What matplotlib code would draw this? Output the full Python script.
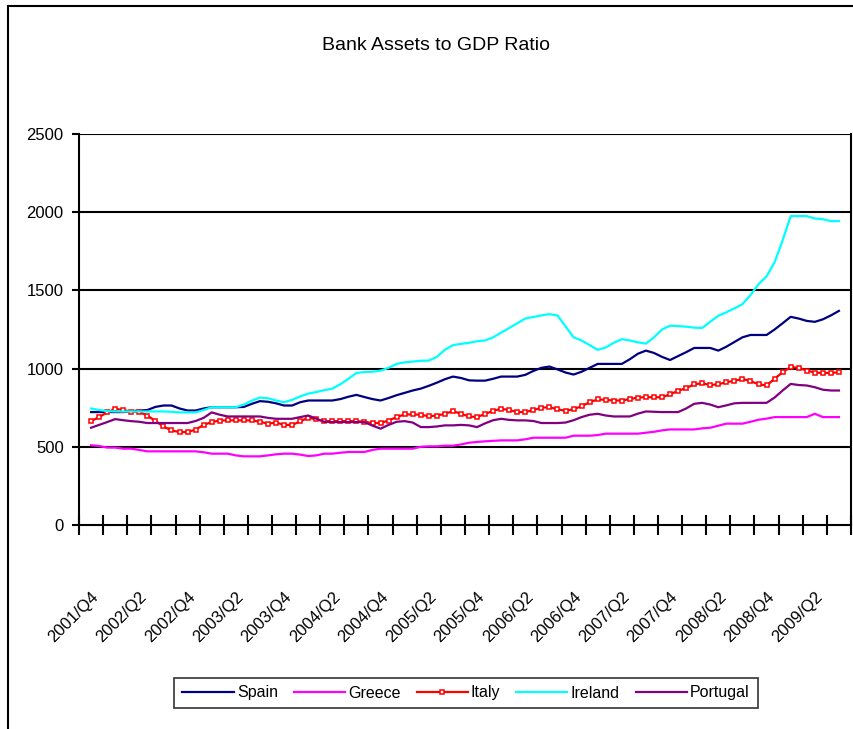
import numpy as np
import matplotlib
matplotlib.use("Agg")
import matplotlib.pyplot as plt
from matplotlib.patches import Rectangle

plt.rcParams['font.family'] = ['Liberation Sans', 'DejaVu Sans']

# etiquetas del eje x (una cada dos trimestres)
etiquetas = ['2001/Q4', '2002/Q2', '2002/Q4', '2003/Q2', '2003/Q4', '2004/Q2',
             '2004/Q4', '2005/Q2', '2005/Q4', '2006/Q2', '2006/Q4', '2007/Q2',
             '2007/Q4', '2008/Q2', '2008/Q4', '2009/Q2']
n_trimestres = 32

# datos mensuales, nov 2001 - ago 2009
spain = [722, 722, 722, 722, 722, 728, 732, 735, 755, 764,
         764, 745, 732, 732, 745, 753, 753, 753, 753, 755,
         775, 792, 788, 778, 764, 764, 785, 796, 796, 796,
         796, 805, 820, 832, 818, 805, 796, 812, 830, 845,
         860, 872, 890, 910, 932, 949, 940, 925, 923, 923,
         935, 949, 949, 949, 960, 985, 1005, 1013, 995, 975,
         962, 980, 1005, 1030, 1030, 1030, 1030, 1060, 1095, 1115,
         1100, 1075, 1055, 1080, 1105, 1132, 1132, 1132, 1115, 1140,
         1170, 1200, 1215, 1215, 1215, 1250, 1290, 1331, 1320, 1305,
         1299, 1315, 1340, 1369]
greece = [510, 505, 495, 495, 488, 488, 480, 471, 471, 471,
          471, 471, 471, 471, 465, 456, 456, 456, 445, 439,
          439, 439, 445, 452, 456, 456, 450, 441, 445, 456,
          456, 462, 467, 467, 467, 480, 488, 488, 488, 488,
          488, 500, 503, 503, 507, 507, 515, 526, 531, 535,
          538, 541, 541, 541, 548, 558, 558, 558, 558, 558,
          571, 571, 571, 575, 584, 584, 584, 584, 584, 590,
          596, 605, 611, 611, 611, 611, 618, 622, 635, 648,
          648, 648, 660, 673, 680, 690, 690, 690, 690, 690,
          711, 690, 690, 690]
italy = [664, 690, 720, 743, 735, 725, 722, 700, 665, 630,
         605, 594, 594, 610, 640, 658, 668, 669, 669, 669,
         669, 660, 648, 655, 640, 640, 662, 686, 675, 664,
         664, 664, 664, 664, 660, 652, 652, 668, 690, 707,
         707, 705, 695, 700, 711, 728, 711, 694, 690, 710,
         730, 743, 735, 722, 722, 735, 750, 753, 740, 730,
         740, 760, 785, 803, 800, 796, 796, 805, 815, 817,
         817, 817, 835, 858, 875, 900, 906, 895, 900, 913,
         922, 934, 920, 900, 892, 935, 977, 1010, 1005, 987,
         975, 972, 972, 977]
ireland = [745, 735, 728, 726, 726, 726, 726, 726, 726, 726,
           724, 720, 720, 720, 735, 753, 753, 753, 753, 770,
           795, 815, 810, 796, 785, 800, 822, 840, 850, 862,
           872, 900, 935, 972, 978, 980, 987, 1005, 1030, 1040,
           1045, 1050, 1051, 1075, 1120, 1150, 1158, 1165, 1175, 1180,
           1200, 1230, 1260, 1290, 1320, 1330, 1340, 1348, 1340, 1270,
           1200, 1180, 1150, 1120, 1135, 1165, 1188, 1180, 1168, 1160,
           1200, 1250, 1274, 1272, 1268, 1262, 1260, 1300, 1338, 1360,
           1385, 1412, 1470, 1540, 1590, 1680, 1820, 1975, 1975, 1975,
           1960, 1955, 1943, 1943]
portugal = [622, 640, 658, 677, 670, 664, 660, 652, 652, 652,
            652, 652, 652, 665, 685, 720, 705, 694, 694, 694,
            694, 694, 685, 679, 679, 679, 690, 700, 680, 660,
            658, 658, 658, 658, 658, 635, 616, 640, 660, 664,
            655, 626, 626, 630, 637, 637, 640, 637, 626, 650,
            670, 679, 672, 669, 669, 665, 652, 652, 652, 655,
            670, 690, 705, 711, 700, 694, 694, 694, 712, 726,
            724, 722, 722, 722, 745, 775, 781, 770, 753, 765,
            778, 781, 781, 781, 781, 815, 860, 902, 895, 892,
            881, 865, 860, 860]

# cada punto mensual cae dentro de su trimestre
x = np.linspace(0.5, n_trimestres - 0.5, len(spain))

fig = plt.figure(figsize=(8.54, 7.29), dpi=100)
ax = fig.add_axes([79 / 854, 1 - 525 / 729, 772 / 854, 391 / 729])

ax.plot(x, spain, color='#000080', lw=1.6, label='Spain')
ax.plot(x, greece, color='#FF00FF', lw=1.6, label='Greece')
ax.plot(x, italy, color='#FF0000', lw=1.6, marker='s', markersize=3.5,
        markerfacecolor='white', markeredgecolor='#FF0000', markeredgewidth=1.1,
        label='Italy')
ax.plot(x, ireland, color='#00FFFF', lw=1.6, label='Ireland')
ax.plot(x, portugal, color='#800080', lw=1.6, label='Portugal')

ax.set_xlim(0, n_trimestres)
ax.set_ylim(0, 2500)
ax.set_yticks(range(0, 2501, 500))
for v in range(500, 2501, 500):
    ax.axhline(v, color='black', lw=1.5, zorder=0)

ax.set_xticks(range(n_trimestres + 1))
ax.set_xticklabels([])
ax.set_xticks(np.arange(0.5, n_trimestres, 2), minor=True)
ax.set_xticklabels(etiquetas, minor=True, rotation=45, ha='right',
                   rotation_mode='anchor', fontsize=12)
ax.tick_params(axis='x', which='major', direction='inout', length=14, width=1.5)
ax.tick_params(axis='x', which='minor', length=0, pad=46)
ax.tick_params(axis='y', direction='out', length=5, width=1.5, labelsize=12, pad=6)

for lado in ['left', 'bottom', 'right']:
    ax.spines[lado].set_linewidth(1.5)
ax.spines['top'].set_visible(False)

fig.text(436 / 854, 1 - 45 / 729, 'Bank Assets to GDP Ratio', ha='center',
         va='center', fontsize=14)

leg = fig.legend(loc='center', bbox_to_anchor=(466 / 854, 1 - 693 / 729), ncol=5,
                 fontsize=11.5, frameon=True, fancybox=False, handlelength=3.2,
                 columnspacing=1.0, handletextpad=0.2, borderpad=0.5)
leg.get_frame().set_edgecolor('black')
leg.get_frame().set_linewidth(1.2)

# marco exterior del gráfico
fig.add_artist(Rectangle((8 / 854, -0.1), 1.2, 1.1 - 6 / 729, transform=fig.transFigure,
                         fill=False, lw=1.5, edgecolor='black'))

fig.savefig('out.png', dpi=100)
